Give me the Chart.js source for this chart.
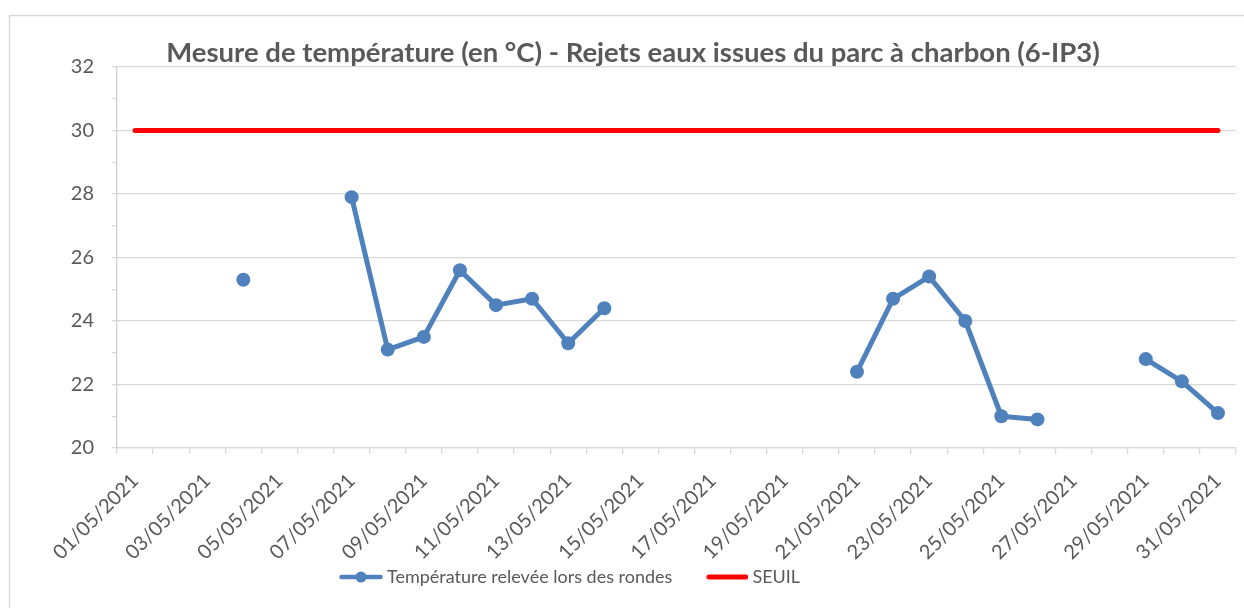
<!DOCTYPE html>
<html>
<head>
<meta charset="utf-8">
<script src="https://cdn.jsdelivr.net/npm/chart.js@4.4.1/dist/chart.umd.min.js"></script>
<style>
  html, body { margin: 0; padding: 0; background: #ffffff; }
  #wrap { width: 1244px; height: 608px; }
</style>
</head>
<body>
<div id="wrap"><canvas id="c" width="1244" height="608"></canvas></div>
<script>
// ---- data ----
const categories = [
  '01/05/2021','02/05/2021','03/05/2021','04/05/2021','05/05/2021','06/05/2021','07/05/2021',
  '08/05/2021','09/05/2021','10/05/2021','11/05/2021','12/05/2021','13/05/2021','14/05/2021',
  '15/05/2021','16/05/2021','17/05/2021','18/05/2021','19/05/2021','20/05/2021','21/05/2021',
  '22/05/2021','23/05/2021','24/05/2021','25/05/2021','26/05/2021','27/05/2021','28/05/2021',
  '29/05/2021','30/05/2021','31/05/2021'
];
const temperatures = [
  null, null, null, 25.3, null, null, 27.9,
  23.1, 23.5, 25.6, 24.5, 24.7, 23.3, 24.4,
  null, null, null, null, null, null, 22.4,
  24.7, 25.4, 24.0, 21.0, 20.9, null, null,
  22.8, 22.1, 21.1
];
const seuil = [
  30, 30, 30, 30, 30, 30, 30,
  30, 30, 30, 30, 30, 30, 30,
  30, 30, 30, 30, 30, 30, 30,
  30, 30, 30, 30, 30, 30, 30,
  30, 30, 30
];
const xTickLabels = [
  '01/05/2021','03/05/2021','05/05/2021','07/05/2021','09/05/2021','11/05/2021','13/05/2021','15/05/2021',
  '17/05/2021','19/05/2021','21/05/2021','23/05/2021','25/05/2021','27/05/2021','29/05/2021','31/05/2021'
];
const yTickLabels = [20, 22, 24, 26, 28, 30, 32];
const seriesNames = ['Température relevée lors des rondes', 'SEUIL'];
const titleText = 'Mesure de température (en °C) - Rejets eaux issues du parc à charbon (6-IP3)';

// ---- styles ----
const BLUE = '#4f81bd';
const RED = '#ff0000';
const GRID = '#d9d9d9';
const TEXT = '#595959';
const FONT = 'Lato';

function legendSample(color, withDot) {
  const c = document.createElement('canvas');
  c.width = 50; c.height = 14;
  const g = c.getContext('2d');
  g.strokeStyle = color;
  g.lineWidth = withDot ? 4.5 : 5;
  g.lineCap = 'round';
  g.beginPath();
  g.moveTo(withDot ? 8.5 : 10.5, 7);
  g.lineTo(47.5, 7);
  g.stroke();
  if (withDot) {
    g.fillStyle = color;
    g.beginPath();
    g.arc(28, 7, 5.5, 0, Math.PI * 2);
    g.fill();
  }
  return c;
}
const sampleBlue = legendSample(BLUE, true);
const sampleRed = legendSample(RED, false);

const framePlugin = {
  id: 'frame',
  beforeDraw(chart) {
    const ctx = chart.ctx;
    ctx.save();
    ctx.fillStyle = '#ffffff';
    ctx.fillRect(0, 0, chart.width, chart.height);
    ctx.strokeStyle = GRID;
    ctx.lineWidth = 1.5;
    ctx.strokeRect(9.5, 15.5, chart.width + 20, chart.height + 20);
    ctx.restore();
  },
  afterLayout(chart) {
    const t = chart.titleBlock;
    if (t) { t.left += 15; t.right += 15; }
    const lg = chart.legend;
    if (lg && lg.lineWidths) {
      const pad = lg.options.labels.padding;
      const cur = (lg.left + pad + lg.right - lg.lineWidths[0]) / 2;
      const shift = 338 - cur;
      lg.left += shift; lg.right += shift;
    }
    const xs = chart.scales.x;
    if (xs) { xs.bottom += 40; }
  }
};

new Chart(document.getElementById('c'), {
  type: 'line',
  data: {
    labels: categories,
    datasets: [
      {
        label: seriesNames[0],
        data: temperatures,
        borderColor: BLUE,
        backgroundColor: BLUE,
        borderWidth: 5,
        pointRadius: 7,
        pointBackgroundColor: BLUE,
        pointBorderColor: BLUE,
        pointBorderWidth: 0,
        pointStyle: 'circle',
        spanGaps: false,
        tension: 0,
        borderJoinStyle: 'round'
      },
      {
        label: seriesNames[1],
        data: seuil,
        borderColor: RED,
        backgroundColor: RED,
        borderWidth: 5,
        pointRadius: 0,
        borderCapStyle: 'round',
        tension: 0
      }
    ]
  },
  options: {
    responsive: false,
    animation: false,
    events: [],
    layout: { padding: { top: 0, left: 0, right: 8, bottom: 12 } },
    plugins: {
      title: {
        display: true,
        text: titleText,
        color: TEXT,
        font: { family: FONT, size: 27.5, weight: 'bold', lineHeight: '24px' },
        padding: { top: 41, bottom: 2 }
      },
      legend: {
        display: true,
        position: 'bottom',
        align: 'center',
        labels: {
          usePointStyle: true,
          pointStyleWidth: 40,
          padding: 31,
          color: TEXT,
          font: { family: FONT, size: 18 },
          generateLabels(chart) {
            return chart.data.datasets.map((ds, i) => ({
              text: ds.label,
              fillStyle: ds.borderColor,
              strokeStyle: ds.borderColor,
              lineWidth: 0,
              pointStyle: i === 0 ? sampleBlue : sampleRed,
              hidden: false,
              datasetIndex: i,
              fontColor: TEXT
            }));
          }
        }
      },
      tooltip: { enabled: false }
    },
    scales: {
      x: {
        type: 'category',
        offset: true,
        grid: {
          offset: true,
          drawOnChartArea: false,
          drawTicks: true,
          tickLength: 6,
          color: GRID,
          lineWidth: 1.3
        },
        border: { display: true, color: GRID, width: 1.3 },
        ticks: {
          autoSkip: false,
          minRotation: 45,
          maxRotation: 45,
          padding: 15,
          color: TEXT,
          font: { family: FONT, size: 20 },
          callback(value, index) {
            const lab = this.getLabelForValue(value);
            return xTickLabels.includes(lab) ? lab : '';
          }
        },
        afterFit(scale) {
          scale.height = 89;
          scale.paddingLeft = 0;
          scale.paddingRight = 0;
        }
      },
      y: {
        min: 20,
        max: 32,
        grid: {
          drawTicks: true,
          tickLength: 5,
          tickColor: GRID,
          lineWidth: 1.3,
          color(ctx) {
            return yTickLabels.includes(ctx.tick.value) ? GRID : 'rgba(0,0,0,0)';
          }
        },
        border: { display: true, color: '#cfcfcf', width: 1.3 },
        ticks: {
          stepSize: 1,
          padding: 18,
          color: TEXT,
          font: { family: FONT, size: 20 },
          callback(value) {
            return yTickLabels.includes(value) ? String(value) : '';
          }
        },
        afterFit(scale) { scale.width = 117; }
      }
    }
  },
  plugins: [framePlugin]
});
</script>
</body>
</html>
